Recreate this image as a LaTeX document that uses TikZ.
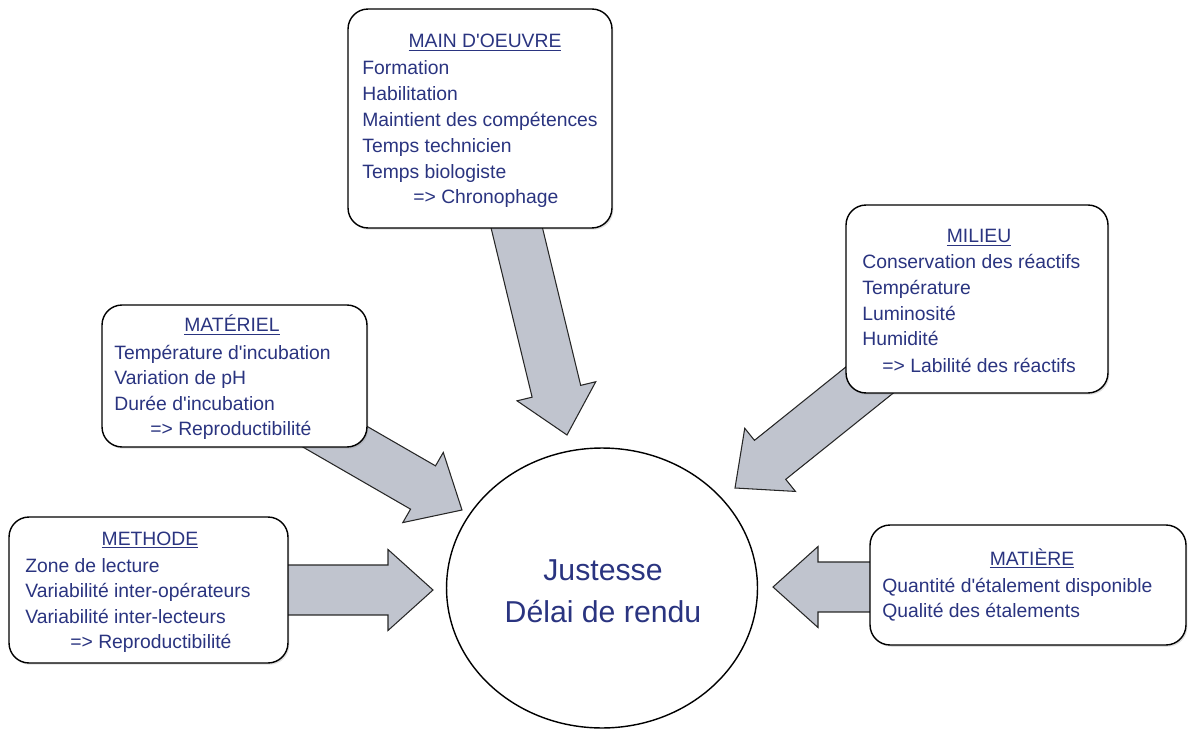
\documentclass[tikz,border=0pt]{standalone}
\usepackage{fontspec}
\setmainfont{Liberation Sans}
\usetikzlibrary{shapes.geometric, calc, shadows}

\definecolor{bleutexte}{RGB}{42,52,128}
\definecolor{grisfleche}{RGB}{192,196,206}

\tikzset{
  cadre/.style={draw, rounded corners=0.4cm, fill=white, line width=0.8pt, inner sep=0,
    drop shadow={shadow xshift=0.8pt, shadow yshift=-1pt, opacity=0.25}},
  grosfleche/.style={draw=black!85, line width=0.6pt, fill=grisfleche},
  titre/.style={anchor=base, inner sep=0, text=bleutexte, font=\fontsize{11}{14}\selectfont},
  ligne/.style={anchor=base west, inner sep=0, text=bleutexte, font=\fontsize{11}{14}\selectfont},
  centre/.style={anchor=base, inner sep=0, text=bleutexte, font=\fontsize{17.2}{22}\selectfont}
}

% soulignement un peu plus bas que \underline
\newcommand{\souligne}[1]{\setbox0\hbox{#1}\rlap{\rule[-1.9pt]{\wd0}{0.5pt}}\box0}

% grosse fleche de #1 vers #2
\newcommand{\fleche}[2]{%
  \path ($(#2)!0.9cm!(#1)$) coordinate (hb);
  \draw[grosfleche] ($(#1)!0.5cm!90:(#2)$) -- ($(hb)!0.5cm!-90:(#1)$)
    -- ($(hb)!0.81cm!-90:(#1)$) -- (#2) -- ($(hb)!0.81cm!90:(#1)$)
    -- ($(hb)!0.5cm!90:(#1)$) -- ($(#1)!0.5cm!-90:(#2)$) -- cycle;
}

\begin{document}
\begin{tikzpicture}[x=0.02cm, y=-0.02cm]
\useasboundingbox (0,0) rectangle (1189,729);

% fleches
\coordinate (mo-dep) at (510,200);  \coordinate (mo-pte) at (567,435);
\coordinate (mat-dep) at (306,420); \coordinate (mat-pte) at (462,510);
\coordinate (mil-dep) at (907,350); \coordinate (mil-pte) at (735,488);
\coordinate (met-dep) at (280,590); \coordinate (met-pte) at (433,590);
\coordinate (mtr-dep) at (880,587); \coordinate (mtr-pte) at (773,587);
\fleche{mo-dep}{mo-pte}
\fleche{mat-dep}{mat-pte}
\fleche{mil-dep}{mil-pte}
\fleche{met-dep}{met-pte}
\fleche{mtr-dep}{mtr-pte}

% cadres
\node[cadre, minimum width=5.28cm, minimum height=4.38cm] (mo) at (480,118.5) {};
\node[cadre, minimum width=5.3cm, minimum height=2.84cm] (mat) at (234.5,376) {};
\node[cadre, minimum width=5.24cm, minimum height=3.76cm] (mil) at (977,299) {};
\node[cadre, minimum width=5.58cm, minimum height=2.92cm] (met) at (148.5,590) {};
\node[cadre, minimum width=6.32cm, minimum height=2.4cm] (mtr) at (1028,585) {};
\node[draw, ellipse, fill=white, line width=0.8pt, inner sep=0,
  minimum width=6.22cm, minimum height=5.6cm] (cible) at (602,588) {};

% main d'oeuvre
\node[titre] (mo-t) at (485,48) {\souligne{MAIN D\textquotesingle{}OEUVRE}};
\foreach \txt [count=\i from 0] in {Formation, Habilitation, Maintient des compétences,
  Temps technicien, Temps biologiste}
  \node[ligne] (mo-\i) at (362,{75+25.8*\i}) {\txt};
\node[ligne] (mo-r) at (413,204) {=> Chronophage};

% materiel
\node[titre] (mat-t) at (232,332) {\souligne{MATÉRIEL}};
\foreach \txt [count=\i from 0] in {Température d\textquotesingle{}incubation,
  Variation de pH, Durée d\textquotesingle{}incubation}
  \node[ligne] (mat-\i) at (114,{359+25.5*\i}) {\txt};
\node[ligne] (mat-r) at (150,435) {=> Reproductibilité};

% milieu
\node[titre] (mil-t) at (979,243) {\souligne{MILIEU}};
\foreach \txt [count=\i from 0] in {Conservation des réactifs, Température,
  Luminosité, Humidité}
  \node[ligne] (mil-\i) at (862,{269+25.5*\i}) {\txt};
\node[ligne] (mil-r) at (882,372) {=> Labilité des réactifs};

% methode
\node[titre] (met-t) at (150,545) {\souligne{METHODE}};
\foreach \txt [count=\i from 0] in {Zone de lecture, Variabilité inter-opérateurs,
  Variabilité inter-lecteurs}
  \node[ligne] (met-\i) at (25,{572+25.5*\i}) {\txt};
\node[ligne] (met-r) at (70,648) {=> Reproductibilité};

% matiere
\node[titre] (mtr-t) at (1032,565) {\souligne{MATIÈRE}};
\node[ligne] (mtr-0) at (882,592) {Quantité d\textquotesingle{}étalement disponible};
\node[ligne] (mtr-1) at (882,617) {Qualité des étalements};

% centre
\node[centre] (c-1) at (603,580) {Justesse};
\node[centre] (c-2) at (603,622) {Délai de rendu};
\end{tikzpicture}
\end{document}
